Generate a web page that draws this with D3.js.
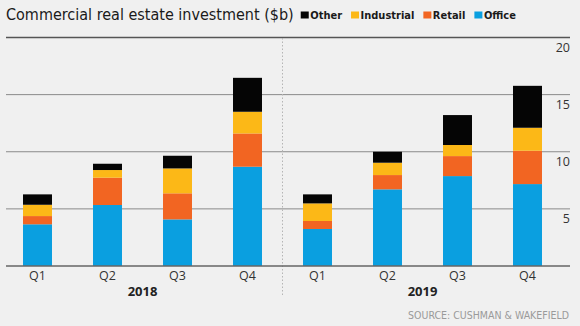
<!DOCTYPE html>
<html>
<head>
<meta charset="utf-8">
<script src="https://cdn.jsdelivr.net/npm/d3@7"></script>
<style>
    body { margin: 0; background: #f0f0f0; }
    svg { display: block; font-family: "Open Sans", "Noto Sans", sans-serif; }
    .narrow { font-family: "Liberation Sans Narrow", "DejaVu Sans Condensed", "Open Sans", sans-serif; }
</style>
</head>
<body>
<script>
"use strict";

// data
var years = ["2018", "2019"];
var quarters = ["Q1", "Q2", "Q3", "Q4"];
var office = [3.65, 5.34, 4.08, 8.69, 3.24, 6.71, 7.87, 7.17];
var retail = [0.72, 2.39, 2.28, 2.91, 0.70, 1.25, 1.75, 2.92];
var industrial = [0.99, 0.67, 2.18, 1.90, 1.54, 1.08, 0.97, 2.01];
var other = [0.91, 0.55, 1.11, 2.97, 0.79, 0.96, 2.62, 3.67];
var seriesNames = ["Office", "Retail", "Industrial", "Other"];
var legendOrder = ["Other", "Industrial", "Retail", "Office"];
var yTicks = [5, 10, 15, 20];

function init() {
    var w = 580;
    var h = 326;

    var colors = {
        Office: "#0a9fe0",
        Retail: "#f26522",
        Industrial: "#fcb817",
        Other: "#050505"
    };

    // build one row per quarter
    var keys = [];
    var rows = [];
    years.forEach(function (y, yi) {
        quarters.forEach(function (q, qi) {
            var i = yi * quarters.length + qi;
            keys.push(y + " " + q);
            rows.push({
                key: y + " " + q,
                Office: office[i],
                Retail: retail[i],
                Industrial: industrial[i],
                Other: other[i]
            });
        });
    });

    var stacked = d3.stack().keys(seriesNames)(rows);

    var xScale = d3.scaleBand()
        .domain(keys)
        .range([2.5, 562.5])
        .paddingInner(0.586)
        .paddingOuter(0.293);

    var yScale = d3.scaleLinear()
        .domain([0, 20])
        .range([266, 37.5]);

    var svg = d3.select("body")
        .append("svg")
        .attr("width", w)
        .attr("height", h);

    svg.append("rect")
        .attr("width", w)
        .attr("height", h)
        .attr("fill", "#f0f0f0");

    // title
    var title = svg.append("text")
        .attr("class", "narrow")
        .attr("x", 6)
        .attr("y", 19.5)
        .attr("font-size", 16)
        .attr("fill", "#1a1a1a")
        .text("Commercial real estate investment ($b)");

    // legend starts just after the title, each item after the previous one
    var lx = Math.max(292, 6 + title.node().getComputedTextLength() + 7);
    legendOrder.forEach(function (name) {
        var g = svg.append("g")
            .attr("class", "legend")
            .attr("transform", "translate(" + lx + ",0)");
        g.append("rect")
            .attr("x", 0)
            .attr("y", 11.5)
            .attr("width", 8)
            .attr("height", 7)
            .attr("fill", colors[name]);
        var t = g.append("text")
            .attr("class", "narrow")
            .attr("x", 9.5)
            .attr("y", 19)
            .attr("font-size", 11)
            .attr("font-weight", "bold")
            .attr("fill", "#1a1a1a")
            .text(name);
        lx += 9.5 + t.node().getComputedTextLength() + 9;
    });

    // gridlines
    svg.selectAll(".grid")
        .data(yTicks)
        .enter()
        .append("line")
        .attr("class", "grid")
        .attr("x1", 6)
        .attr("x2", 570)
        .attr("y1", function (d) { return yScale(d); })
        .attr("y2", function (d) { return yScale(d); })
        .attr("stroke", function (d) { return d === 20 ? "#555" : "#8a8a8a"; })
        .attr("stroke-width", function (d) { return d === 20 ? 1.6 : 1; });

    // y labels on the right, just below each line
    svg.selectAll(".ylabel")
        .data(yTicks)
        .enter()
        .append("text")
        .attr("class", "ylabel")
        .attr("x", 570)
        .attr("y", function (d) { return yScale(d) + 14.5; })
        .attr("text-anchor", "end")
        .attr("font-size", 12.5)
        .attr("fill", "#333")
        .text(function (d) { return d; });

    // year divider
    var divX = xScale(keys[4]) - xScale.step() * xScale.paddingInner() / 2;
    svg.append("line")
        .attr("x1", divX)
        .attr("x2", divX)
        .attr("y1", 38)
        .attr("y2", 296)
        .attr("stroke", "#b5b5b5")
        .attr("stroke-width", 1)
        .attr("stroke-dasharray", "1.5,2");

    // bars
    svg.selectAll(".series")
        .data(stacked)
        .enter()
        .append("g")
        .attr("class", "series")
        .attr("fill", function (d) { return colors[d.key]; })
        .selectAll("rect")
        .data(function (d) { return d; })
        .enter()
        .append("rect")
        .attr("x", function (d) { return xScale(d.data.key); })
        .attr("y", function (d) { return yScale(d[1]); })
        .attr("width", xScale.bandwidth())
        .attr("height", function (d) { return yScale(d[0]) - yScale(d[1]); });

    // baseline
    svg.append("line")
        .attr("x1", 6)
        .attr("x2", 570)
        .attr("y1", yScale(0))
        .attr("y2", yScale(0))
        .attr("stroke", "#666")
        .attr("stroke-width", 1.3);

    // quarter labels
    var xAxis = d3.axisBottom(xScale)
        .tickSize(0)
        .tickPadding(0)
        .tickFormat(function (d) { return d.split(" ")[1]; });

    var gx = svg.append("g")
        .attr("transform", "translate(0," + 270 + ")")
        .call(xAxis);
    gx.select(".domain").remove();
    gx.selectAll("text")
        .attr("dy", "0.8em")
        .attr("font-size", 12.5)
        .attr("font-family", "\"Open Sans\", \"Noto Sans\", sans-serif")
        .attr("fill", "#333");

    // year labels centred under each group
    svg.selectAll(".year")
        .data(years)
        .enter()
        .append("text")
        .attr("class", "year")
        .attr("x", function (d) {
            var a = xScale(d + " Q1");
            var b = xScale(d + " Q4") + xScale.bandwidth();
            return (a + b) / 2;
        })
        .attr("y", 296)
        .attr("text-anchor", "middle")
        .attr("font-size", 13)
        .attr("font-weight", "bold")
        .attr("fill", "#222")
        .text(function (d) { return d; });

    // source
    svg.append("text")
        .attr("class", "narrow")
        .attr("x", 569)
        .attr("y", 319)
        .attr("text-anchor", "end")
        .attr("font-size", 10.5)
        .attr("fill", "#9a9a9a")
        .text("SOURCE: CUSHMAN & WAKEFIELD");
}

window.onload = init;
</script>
</body>
</html>
